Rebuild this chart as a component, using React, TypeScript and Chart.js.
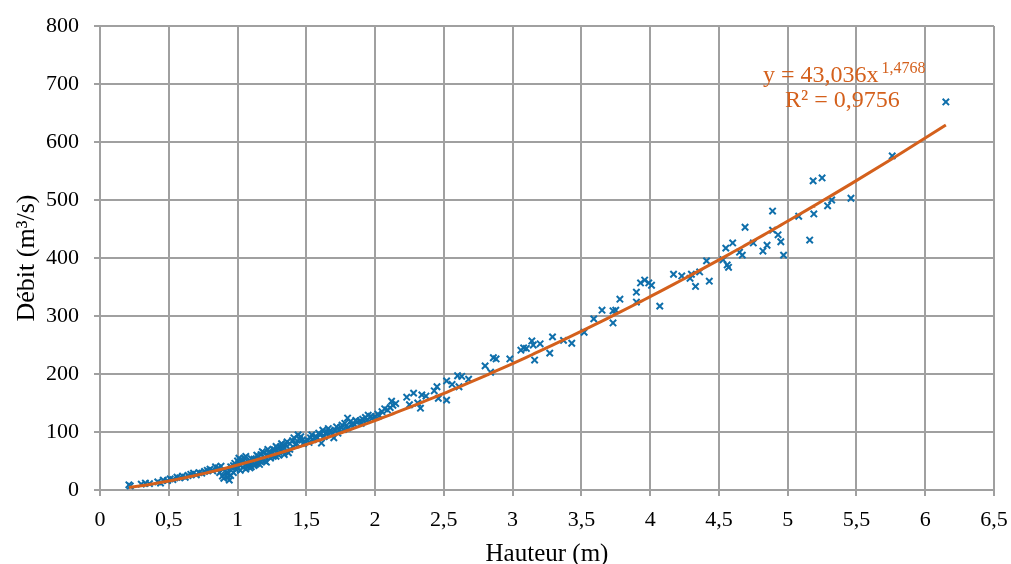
import React, { useEffect, useRef } from "react";
import { Chart, registerables } from "chart.js";

Chart.register(...registerables);

// Measured heights (m) and flows (m³/s)
const HEIGHTS = [
  0.21, 0.22, 0.30, 0.33, 0.36, 0.42, 0.44, 0.46, 0.49, 0.51, 0.53, 0.56, 0.58, 0.60, 0.62,
  0.64, 0.66, 0.68, 0.70, 0.72, 0.74, 0.76, 0.78, 0.80, 0.82, 0.84, 0.86, 0.88, 0.90, 0.92,
  0.93, 0.94, 0.95, 0.96, 0.97, 0.98, 0.99, 1.00, 1.01, 1.02, 1.03, 1.04, 1.05, 1.06, 1.07,
  1.08, 1.09, 1.10, 1.11, 1.12, 1.13, 1.14, 1.15, 1.16, 1.17, 1.18, 1.19, 1.20, 1.21, 1.22,
  1.23, 1.24, 1.25, 1.26, 1.27, 1.28, 1.29, 1.30, 1.31, 1.32, 1.33, 1.34, 1.35, 1.36, 1.37,
  1.38, 1.40, 1.42, 1.44, 1.45, 1.47, 1.49, 1.51, 1.53, 1.55, 1.58, 1.60, 1.61, 1.62, 1.64,
  1.65, 1.67, 1.69, 1.70, 1.71, 1.72, 1.74, 1.76, 1.78, 1.80, 1.80, 1.82, 1.85, 1.87, 1.89,
  1.91, 1.93, 1.95, 1.97, 2.00, 2.02, 2.05, 2.09, 2.11, 2.12, 2.13, 2.15, 2.23, 2.25, 2.28,
  2.31, 2.33, 2.34, 2.37, 2.43, 2.45, 2.46, 2.52, 2.52, 2.56, 2.60, 2.61, 2.63, 2.68, 2.80,
  2.84, 2.86, 2.88, 2.98, 3.06, 3.08, 3.10, 3.14, 3.15, 3.16, 3.20, 3.27, 3.29, 3.37, 3.43,
  3.52, 3.59, 3.65, 3.73, 3.73, 3.75, 3.78, 3.90, 3.90, 3.93, 3.96, 3.99, 4.01, 4.07, 4.17,
  4.23, 4.29, 4.30, 4.33, 4.36, 4.41, 4.43, 4.53, 4.55, 4.56, 4.57, 4.60, 4.65, 4.67, 4.69,
  4.75, 4.82, 4.85, 4.89, 4.89, 4.93, 4.95, 4.97, 5.08, 5.16, 5.19, 5.185, 5.25, 5.29, 5.32,
  5.46, 5.76, 6.15,
  0.87, 0.89, 0.91, 0.93, 0.95, 0.97, 0.99, 1.00, 1.01, 1.02, 1.04, 1.06, 1.07, 1.09, 1.10,
  1.12, 1.14, 1.16, 1.18, 1.20, 1.22, 1.24, 1.26, 1.28, 1.30, 1.32, 1.34, 1.38, 1.41, 1.43,
  1.46, 1.48, 1.52, 1.54, 1.57, 1.59, 1.63, 1.66, 1.68, 1.73, 1.75, 1.77, 1.83, 1.86, 1.90,
  1.94, 1.98, 2.03, 2.07,
];
const FLOWS = [
  9, 7, 10, 12, 11, 14, 12, 17, 16, 19, 18, 22, 21, 24, 22,
  25, 27, 29, 26, 30, 29, 32, 34, 36, 33, 40, 38, 41, 20, 30,
  28, 17, 25, 38, 42, 46, 35, 50, 44, 52, 48, 39, 55, 36, 45,
  43, 50, 40, 47, 53, 44, 46, 58, 50, 61, 52, 64, 56, 48, 60,
  66, 55, 62, 70, 69, 58, 72, 65, 74, 68, 76, 61, 78, 83, 64,
  80, 85, 78, 95, 88, 86, 84, 86, 90, 87, 90, 95, 81, 103, 98,
  100, 102, 96, 90, 103, 109, 104, 112, 115, 107, 124, 118, 113, 117, 119,
  122, 125, 129, 127, 126, 131, 135, 138, 142, 153, 146, 149, 160, 147, 167,
  150, 141, 164, 162, 171, 178, 158, 188, 155, 182, 197, 178, 196, 191, 214,
  203, 228, 226, 226, 241, 245, 244, 257, 250, 224, 252, 236, 264, 258, 253,
  272, 295, 310, 309, 288, 310, 329, 341, 324, 357, 362, 357, 353, 317, 372,
  369, 365, 372, 351, 376, 395, 360, 397, 417, 388, 384, 426, 410, 405, 453,
  426, 412, 422, 448, 481, 440, 428, 405, 472, 431, 476, 533, 538, 490, 500,
  503, 576, 669,
  30, 24, 33, 22, 40, 30, 42, 38, 55, 34, 50, 58, 40, 38, 54,
  42, 60, 44, 66, 50, 70, 62, 58, 75, 60, 80, 72, 70, 90, 80,
  92, 80, 82, 95, 92, 98, 92, 106, 100, 98, 108, 104, 112, 120, 115,
  120, 124, 128, 140,
];

// Power trendline coefficients shown on the chart: y = a·x^b
const TREND_A = 43.036;
const TREND_B = 1.4768;
const TREND_EQ = "y = 43,036x";
const TREND_EXP = "1,4768";
const TREND_R2 = "R² = 0,9756";

const X_TITLE = "Hauteur (m)";
const Y_TITLE = "Débit (m³/s)";

const BLUE = "#0f6fab";
const ORANGE = "#d4601c";
const GRID = "#a0a0a0";
const FONT = '"Liberation Serif", "Times New Roman", serif';

const fmt = (v: number) => String(Number(v.toFixed(2))).replace(".", ",");

export default function App() {
  const ref = useRef<HTMLCanvasElement | null>(null);

  useEffect(() => {
    if (!ref.current) return;
    const points = HEIGHTS.map((h, i) => ({ x: h, y: FLOWS[i] }));
    const sortedH = [...HEIGHTS].sort((a, b) => a - b);
    const trend = sortedH.map((h) => ({ x: h, y: TREND_A * Math.pow(h, TREND_B) }));

    const labelPlugin = {
      id: "trendLabel",
      afterDatasetsDraw(chart: any) {
        const ctx = chart.ctx;
        ctx.save();
        ctx.fillStyle = ORANGE;
        ctx.textBaseline = "alphabetic";
        ctx.textAlign = "left";
        ctx.font = `24px ${FONT}`;
        ctx.fillText(TREND_EQ, 763, 82);
        const w = ctx.measureText(TREND_EQ).width;
        ctx.font = `16px ${FONT}`;
        ctx.fillText(TREND_EXP, 763 + w + 3, 73);
        ctx.font = `24px ${FONT}`;
        ctx.fillText(TREND_R2, 785, 107);
        ctx.restore();
      },
    };

    const chart = new Chart(ref.current, {
      type: "scatter",
      data: {
        datasets: [
          {
            type: "line",
            data: trend,
            borderColor: ORANGE,
            borderWidth: 3,
            pointRadius: 0,
            fill: false,
            tension: 0,
            order: 0,
          } as any,
          {
            data: points,
            pointStyle: "crossRot",
            pointRadius: 4.5,
            pointBorderWidth: 2,
            borderColor: BLUE,
            backgroundColor: BLUE,
            order: 1,
          } as any,
        ],
      },
      options: {
        animation: false,
        responsive: false,
        layout: { padding: { top: 26, right: 17, left: 8, bottom: 0 } },
        plugins: { legend: { display: false }, tooltip: { enabled: false } },
        scales: {
          x: {
            type: "linear",
            min: 0,
            max: 6.5,
            grid: { color: GRID, lineWidth: 2, tickLength: 6, tickColor: GRID },
            border: { color: GRID, width: 2 },
            ticks: {
              stepSize: 0.5,
              padding: 13,
              color: "#000",
              font: { family: FONT, size: 22, lineHeight: 1 },
              callback: (v: any) => fmt(Number(v)),
              maxRotation: 0,
              autoSkip: false,
            },
            title: {
              display: true,
              text: X_TITLE,
              color: "#000",
              font: { family: FONT, size: 25, lineHeight: 0.8 },
              padding: { top: 0, bottom: 0 },
            },
            afterFit: (s: any) => {
              s.height = 74;
              s.paddingRight = 0;
              s.paddingLeft = 0;
            },
          },
          y: {
            type: "linear",
            min: 0,
            max: 800,
            grid: { color: GRID, lineWidth: 2, tickLength: 6, tickColor: GRID },
            border: { color: GRID, width: 2 },
            ticks: {
              stepSize: 100,
              padding: 15,
              color: "#000",
              font: { family: FONT, size: 22, lineHeight: 1 },
              callback: (v: any) => fmt(Number(v)),
            },
            title: {
              display: true,
              text: Y_TITLE,
              color: "#000",
              font: { family: FONT, size: 26, lineHeight: 1 },
              padding: { top: 6, bottom: 0 },
            },
            afterFit: (s: any) => {
              s.width = 92;
            },
          },
        },
      },
      plugins: [labelPlugin],
    });
    return () => chart.destroy();
  }, []);

  return (
    <div style={{ position: "fixed", left: 0, top: 0, width: 1011, height: 564, background: "#fff" }}>
      <canvas ref={ref} width={1011} height={564} style={{ display: "block" }} />
    </div>
  );
}
